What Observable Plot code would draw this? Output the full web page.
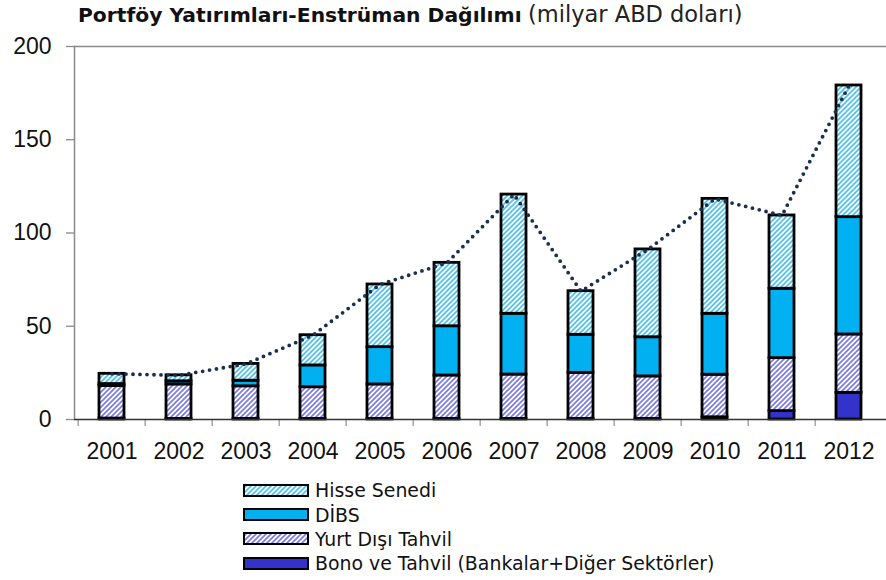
<!DOCTYPE html>
<html>
<head>
<meta charset="utf-8">
<script src="https://cdn.jsdelivr.net/npm/d3@7"></script>
<script src="https://cdn.jsdelivr.net/npm/@observablehq/plot@0.6"></script>
<style>
  html, body { margin: 0; padding: 0; background: #fff; }
  body { width: 886px; height: 580px; position: relative; overflow: hidden; font-family: "Liberation Sans", Arial, sans-serif; }
  #title { position: absolute; left: 78px; top: 1px; font-family: "DejaVu Sans", sans-serif; font-size: 20.3px; color: #111; white-space: nowrap; }
  #title b { font-weight: bold; }
  #title span { font-size: 22.5px; color: #222; }
  #chart { position: absolute; left: 0; top: 28px; }
  #legend { position: absolute; left: 243px; top: 478px; }
  .row { display: flex; align-items: center; height: 24.4px; }
  .row svg { display: block; }
  .row .lab { margin-left: 6px; font-family: "DejaVu Sans", sans-serif; font-size: 18.9px; color: #111; white-space: nowrap; }
</style>
</head>
<body>
<svg width="0" height="0" style="position:absolute">
  <defs>
    <pattern id="hatchHisse" patternUnits="userSpaceOnUse" width="5" height="5">
      <rect width="5" height="5" fill="#ffffff"></rect>
      <path d="M-1,1 l2,-2 M0,5 l5,-5 M4,6 l2,-2" stroke="#4FC3EE" stroke-width="1.7"></path>
    </pattern>
    <pattern id="hatchYurt" patternUnits="userSpaceOnUse" width="5" height="5">
      <rect width="5" height="5" fill="#ffffff"></rect>
      <path d="M-1,1 l2,-2 M0,5 l5,-5 M4,6 l2,-2" stroke="#7C7CE4" stroke-width="1.7"></path>
    </pattern>
  </defs>
</svg>
<div id="title"><b>Portföy Yatırımları-Enstrüman Dağılımı</b> <span>(milyar ABD doları)</span></div>
<div id="chart"></div>
<div id="legend"></div>
<script>
// ---- data (milyar ABD doları) ----
const years = ["2001","2002","2003","2004","2005","2006","2007","2008","2009","2010","2011","2012"];
const bono  = [0.5, 0.3, 0.3, 0.3, 0.3, 0.3, 0.3, 0.3, 0.3, 1.2, 4.5, 14.3];
const yurt  = [17.5, 18.5, 17.5, 17.0, 18.5, 23.3, 23.8, 24.7, 22.8, 22.8, 28.4, 31.3];
const dibs  = [1.0, 1.7, 3.0, 11.7, 20.0, 26.4, 32.6, 20.4, 21.0, 32.7, 37.2, 62.9];
const hisse = [5.5, 3.2, 9.0, 16.2, 33.6, 34.0, 63.9, 23.4, 47.1, 61.6, 39.3, 70.6];
const yTicks = [0, 50, 100, 150, 200];

const seriesNames = ["Bono ve Tahvil (Bankalar+Diğer Sektörler)", "Yurt Dışı Tahvil", "DİBS", "Hisse Senedi"];
const seriesValues = [bono, yurt, dibs, hisse];
const seriesFills = ["#3333CC", "url(#hatchYurt)", "#00B0F0", "url(#hatchHisse)"];

const rows = [];
seriesNames.forEach((s, i) => years.forEach((y, j) => rows.push({year: y, series: s, value: seriesValues[i][j]})));
const totals = years.map((y, j) => ({year: y, total: seriesValues.reduce((a, arr) => a + arr[j], 0)}));

const W = 886, H = 451, mL = 74, mR = 0, mT = 18, mB = 60;
const step = (W - mL - mR) / years.length;

const chart = Plot.plot({
  width: W, height: H,
  marginLeft: mL, marginRight: mR, marginTop: mT, marginBottom: mB,
  style: {fontFamily: "Liberation Sans, Arial, sans-serif", color: "#111", background: "#fff"},
  x: {domain: years, paddingInner: 0.62, paddingOuter: 0.31, label: null},
  y: {domain: [0, 200], label: null},
  color: {domain: seriesNames, range: seriesFills},
  marks: [
    Plot.ruleY([200], {stroke: "#8a8a8a", strokeWidth: 1.3}),
    Plot.frame({anchor: "left", stroke: "#8a8a8a", strokeWidth: 1.5}),
    Plot.axisY({ticks: yTicks, tickSize: 8, tickPadding: 15, fontSize: 23, stroke: "#8a8a8a", strokeWidth: 1.3, label: null}),
    Plot.axisX({tickSize: 7, dx: -step / 2, tickFormat: () => "", stroke: "#999", strokeWidth: 1.3, label: null}),
    Plot.axisX({tickSize: 0, tickPadding: 23, fontSize: 23, label: null}),
    Plot.barY(rows, {x: "year", y: "value", fill: "series", order: seriesNames, stroke: "#000", strokeWidth: 2.8}),
    Plot.ruleY([0], {stroke: "#333", strokeWidth: 1.5}),
    Plot.line(totals, {x: "year", y: "total", stroke: "#1A2F50", strokeWidth: 3.8, strokeDasharray: "0 7", strokeLinecap: "round"})
  ]
});
document.getElementById("chart").appendChild(chart);

// ---- legend (top to bottom) ----
const legendOrder = [3, 2, 1, 0];
const leg = document.getElementById("legend");
legendOrder.forEach(i => {
  const row = document.createElement("div");
  row.className = "row";
  row.innerHTML = `<svg width="66" height="13"><rect x="1" y="1" width="64" height="11" fill="${seriesFills[i]}" stroke="#000" stroke-width="2"></rect></svg><span class="lab"></span>`;
  row.querySelector(".lab").textContent = seriesNames[i];
  leg.appendChild(row);
});
</script>
</body>
</html>
